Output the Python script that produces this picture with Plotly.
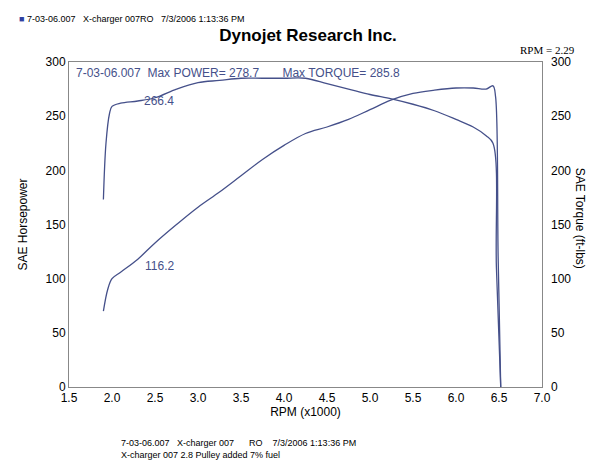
import plotly.graph_objects as go

rpm_tq = [1.90, 1.93, 1.97, 2.0, 2.1, 2.3, 2.5, 2.75, 3.0, 3.25, 3.5, 3.75, 4.0, 4.25, 4.5, 4.75, 5.0, 5.25, 5.5, 5.75, 6.0, 6.2, 6.35, 6.43, 6.47, 6.52]
torque = [173, 225, 252, 259, 262, 264, 267, 275, 281, 283, 285, 285, 285, 285, 280, 275, 270, 266, 261, 255, 247, 240, 232, 225, 110, 0]

rpm_hp = [1.90, 1.95, 2.0, 2.1, 2.3, 2.5, 2.75, 3.0, 3.25, 3.5, 3.75, 4.0, 4.25, 4.5, 4.75, 5.0, 5.25, 5.5, 5.75, 6.0, 6.2, 6.35, 6.43, 6.46, 6.49, 6.52]
power = [70, 90, 100, 106, 118, 133, 150, 166, 180, 195, 210, 223, 234, 240, 247, 256, 265, 271, 274, 276, 276, 275, 278, 268, 120, 0]

blue = "#45508a"
fig = go.Figure()
fig.add_trace(go.Scatter(x=rpm_tq, y=torque, mode="lines", line=dict(color=blue, width=1.3), line_shape="spline"))
fig.add_trace(go.Scatter(x=rpm_hp, y=power, mode="lines", line=dict(color=blue, width=1.3), line_shape="spline", yaxis="y2"))

fig.add_annotation(x=2.55, y=266.4, text="266.4", showarrow=False, yshift=-3, font=dict(size=12, color=blue))
fig.add_annotation(x=2.55, y=116.2, text="116.2", showarrow=False, yshift=-5, font=dict(size=12, color=blue))
fig.add_annotation(xref="paper", yref="paper", x=0.01, y=0.995, xanchor="left", yanchor="top", showarrow=False,
                   text="7-03-06.007  Max POWER= 278.7       Max TORQUE= 285.8", font=dict(size=12, color=blue))

fig.update_layout(
    width=600, height=464, showlegend=False,
    paper_bgcolor="white", plot_bgcolor="white",
    margin=dict(l=61, r=66, t=54, b=85, autoexpand=False),
    font=dict(family="Liberation Sans", color="black"),
    title=dict(text="<b>Dynojet Research Inc.</b>", x=0.5, y=0.955, xanchor="center", font=dict(size=17)),
    xaxis=dict(range=[1.5, 7.0], dtick=0.5, tickformat=".1f", showgrid=False, linecolor="#888", mirror=True,
               showline=True, ticks="", title=dict(text="RPM (x1000)", font=dict(size=12), standoff=2), tickfont=dict(size=12)),
    yaxis=dict(range=[0, 300], dtick=50, showgrid=False, linecolor="#888", mirror=True, showline=True,
               title=dict(text="SAE Horsepower", font=dict(size=12)), tickfont=dict(size=12)),
    yaxis2=dict(range=[0, 300], dtick=50, overlaying="y", side="right", showgrid=False,
                ticklabelstandoff=8, tickfont=dict(size=12)),
)
fig.add_annotation(xref="paper", yref="paper", x=1.1, y=0.52, textangle=90, showarrow=False,
                   text="SAE Torque (ft-lbs)", font=dict(size=12))
fig.add_annotation(xref="paper", yref="paper", x=-0.11, y=1.155, xanchor="left", showarrow=False,
                   text="<span style='color:#3040a0'>■</span> 7-03-06.007   X-charger 007RO   7/3/2006 1:13:36 PM", font=dict(size=9))
fig.add_annotation(xref="paper", yref="paper", x=1.075, y=1.06, xanchor="right", showarrow=False,
                   text="RPM = 2.29", font=dict(size=11, family="Liberation Serif"))
fig.add_annotation(xref="paper", yref="paper", x=0.105, y=-0.15, xanchor="left", yanchor="top", showarrow=False, align="left",
                   text="7-03-06.007   X-charger 007      RO    7/3/2006 1:13:36 PM<br>X-charger 007 2.8 Pulley added 7% fuel", font=dict(size=9))

fig.write_html("out.html")
